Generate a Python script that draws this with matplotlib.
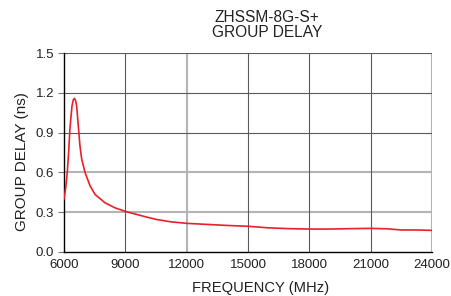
import matplotlib
matplotlib.use("Agg")
import matplotlib.pyplot as plt

plt.rcParams['font.family'] = ['Liberation Sans', 'DejaVu Sans']

freq = [6000, 6080, 6160, 6230, 6290, 6390, 6450, 6505, 6560, 6620, 6700, 6780,
        6866, 7027, 7272, 7517, 8006, 8495, 8984, 9390, 10000, 10530, 11200,
        12000, 13000, 14000, 15000, 16000, 17000, 18000, 19000, 20000, 21000,
        21800, 22500, 23200, 24000]
delay = [0.40, 0.48, 0.60, 0.76, 0.93, 1.10, 1.145, 1.158, 1.145, 1.10, 0.95, 0.80,
         0.70, 0.60, 0.50, 0.434, 0.371, 0.333, 0.307, 0.29, 0.265, 0.245, 0.228,
         0.216, 0.208, 0.200, 0.194, 0.182, 0.176, 0.173, 0.173, 0.176, 0.178,
         0.175, 0.166, 0.166, 0.163]

xticks = [6000, 9000, 12000, 15000, 18000, 21000, 24000]
yticks = [0.0, 0.3, 0.6, 0.9, 1.2, 1.5]
xgrid_dark = [9000, 15000, 18000, 21000]
xgrid_light = [12000, 24000]
ygrid_dark = [0.9, 1.2, 1.5]
ygrid_light = [0.3, 0.6]

fig = plt.figure(figsize=(4.51, 2.96), dpi=100)
ax = fig.add_axes([64/451, 44/296, 368/451, 199/296])

for x in xgrid_light:
    ax.axvline(x, color='#b4b4b4', lw=1.5, zorder=1)
for y in ygrid_light:
    ax.axhline(y, color='#b4b4b4', lw=1.5, zorder=1)
for x in xgrid_dark:
    ax.axvline(x, color='#5a5a5a', lw=0.8, zorder=1)
for y in ygrid_dark:
    ax.axhline(y, color='#5a5a5a', lw=0.8, zorder=1)

ax.plot(freq, delay, color='#e8202a', lw=1.2, zorder=3)

ax.set_xlim(6000, 24000)
ax.set_ylim(0, 1.5)
ax.set_xticks(xticks)
ax.set_yticks(yticks)
ax.set_yticklabels([f"{v:.1f}" for v in yticks])
ax.tick_params(axis='x', length=0, labelsize=9.5, colors='#222222', pad=5)
ax.tick_params(axis='y', length=4, width=0.8, color='#777777', labelsize=9.5,
               labelcolor='#222222', pad=3)
for s in ['top', 'right']:
    ax.spines[s].set_visible(False)
for s in ['left', 'bottom']:
    ax.spines[s].set_color('black')
    ax.spines[s].set_linewidth(1.0)

ax.set_xlabel('FREQUENCY (MHz)', fontsize=10.6, color='#222222', va='center')
ax.xaxis.set_label_coords((261 - 64) / 368, -(288 - 252) / 199)
ax.set_ylabel('GROUP DELAY (ns)', fontsize=11, color='#222222', va='center')
ax.yaxis.set_label_coords((21.5 - 64) / 368, (252 - 162) / 199)
fig.text(267/451, 1 - 25/296, 'ZHSSM-8G-S+\nGROUP DELAY', ha='center', va='center',
         fontsize=11.2, color='#222222', linespacing=1.05)

fig.savefig('out.png', dpi=100)
